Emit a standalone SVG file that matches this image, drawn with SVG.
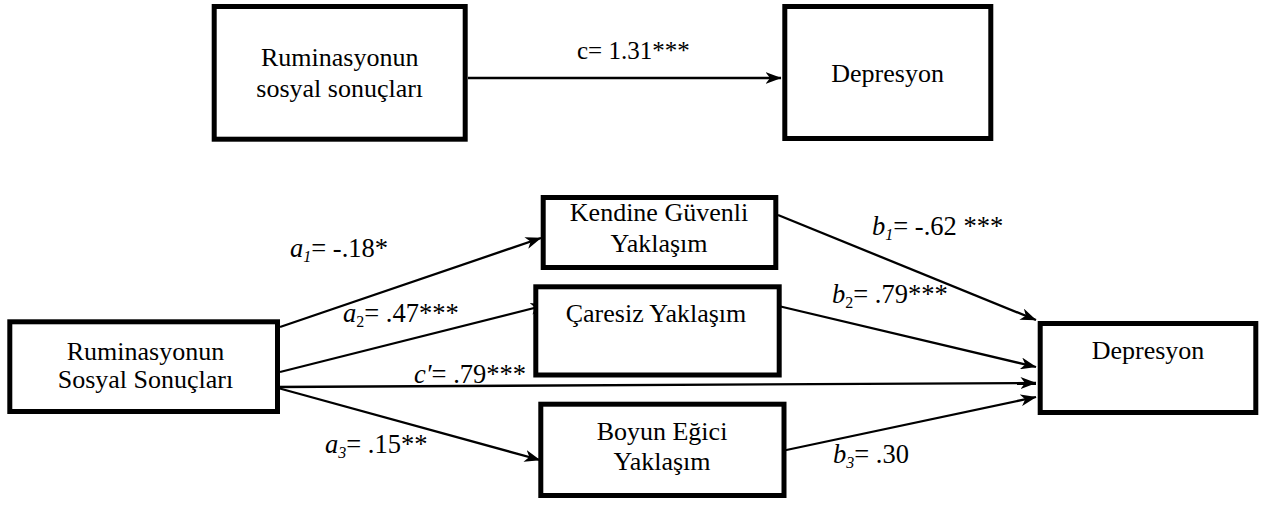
<svg xmlns="http://www.w3.org/2000/svg" width="1261" height="507" viewBox="0 0 1261 507">
  <style>
    .box { fill: #ffffff; stroke: #000000; stroke-width: 5; }
    .node { font-family: "Liberation Serif", "Times New Roman", serif; font-size: 26px; fill: #000; text-anchor: middle; }
    .lbl { font-family: "Liberation Serif", "Times New Roman", serif; font-size: 26.5px; fill: #000; }
    .it { font-style: italic; }
    .sub { font-size: 16px; }
    .edge { stroke: #000; stroke-width: 2.3; fill: none; marker-end: url(#arr); }
  </style>
  <defs>
    <marker id="arr" viewBox="0 0 16 12" refX="15.5" refY="6" markerWidth="16" markerHeight="12" markerUnits="userSpaceOnUse" orient="auto">
      <path d="M0,0 L16,6 L0,12 L4.5,6 Z" fill="#000"/>
    </marker>
  </defs>
  <rect x="0" y="0" width="1261" height="507" fill="#ffffff"/>

  <g id="connectors">
    <line class="edge" x1="468" y1="78" x2="781" y2="78"/>
    <line class="edge" x1="280" y1="327" x2="541" y2="238"/>
    <line class="edge" x1="280" y1="372" x2="546" y2="305"/>
    <line class="edge" x1="274" y1="387" x2="1036" y2="383"/>
    <line class="edge" x1="278" y1="388" x2="540" y2="460"/>
    <line class="edge" x1="778" y1="215" x2="1036" y2="320"/>
    <line class="edge" x1="770" y1="304" x2="1036" y2="367"/>
    <line class="edge" x1="777" y1="452" x2="1036" y2="397"/>
  </g>

  <g id="node-top-left">
    <rect class="box" x="214.2" y="6.5" width="251" height="132.7"/>
    <text class="node" x="339.7" y="65.7">Ruminasyonun</text>
    <text class="node" x="339.7" y="96.7">sosyal sonuçları</text>
  </g>
  <g id="node-top-right">
    <rect class="box" x="784.8" y="6.5" width="206" height="132"/>
    <text class="node" x="887.6" y="81.7">Depresyon</text>
  </g>
  <g id="node-bottom-left">
    <rect class="box" x="9.8" y="321.8" width="267.7" height="89.7"/>
    <text class="node" x="145.5" y="360">Ruminasyonun</text>
    <text class="node" x="145.5" y="388.3">Sosyal Sonuçları</text>
  </g>
  <g id="node-kendine">
    <rect class="box" x="543.2" y="197.5" width="232.6" height="70"/>
    <text class="node" x="659" y="220.7">Kendine Güvenli</text>
    <text class="node" x="659" y="251.7">Yaklaşım</text>
  </g>
  <g id="node-caresiz">
    <rect class="box" x="535.8" y="286.8" width="243.4" height="88.2"/>
    <text class="node" x="656" y="321.7">Çaresiz Yaklaşım</text>
  </g>
  <g id="node-boyun">
    <rect class="box" x="540.8" y="404.2" width="243.2" height="91.3"/>
    <text class="node" x="662" y="440">Boyun Eğici</text>
    <text class="node" x="662" y="470">Yaklaşım</text>
  </g>
  <g id="node-bottom-right">
    <rect class="box" x="1040.2" y="323.5" width="215.6" height="89"/>
    <text class="node" x="1148" y="359">Depresyon</text>
  </g>

  <g id="labels">
    <text class="lbl" x="577" y="59" style="font-size:25px">c= 1.31***</text>
    <text class="lbl" x="290" y="257"><tspan class="it">a</tspan><tspan class="it sub" dy="5">1</tspan><tspan dy="-5">= -.18*</tspan></text>
    <text class="lbl" x="343" y="322"><tspan class="it">a</tspan><tspan class="sub" dy="5">2</tspan><tspan dy="-5">= .47***</tspan></text>
    <text class="lbl" x="414" y="383"><tspan class="it">c′</tspan>= .79***</text>
    <text class="lbl" x="325" y="453"><tspan class="it">a</tspan><tspan class="it sub" dy="5">3</tspan><tspan dy="-5">= .15**</tspan></text>
    <text class="lbl" x="872" y="235"><tspan class="it">b</tspan><tspan class="it sub" dy="5">1</tspan><tspan dy="-5">= -.62 ***</tspan></text>
    <text class="lbl" x="832" y="303"><tspan class="it">b</tspan><tspan class="sub" dy="5">2</tspan><tspan dy="-5">= .79***</tspan></text>
    <text class="lbl" x="833" y="463"><tspan class="it">b</tspan><tspan class="it sub" dy="5">3</tspan><tspan dy="-5">= .30</tspan></text>
  </g>
</svg>
